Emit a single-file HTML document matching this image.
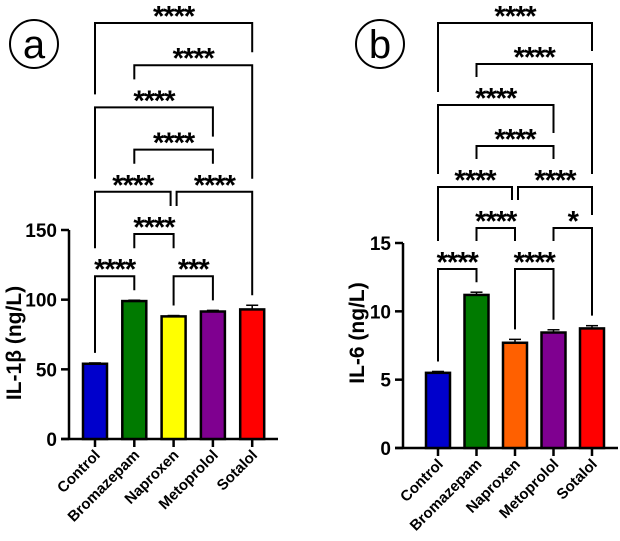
<!DOCTYPE html>
<html><head><meta charset="utf-8"><style>
body{margin:0;background:#fff}
svg{display:block;font-family:"Liberation Sans",Arial,sans-serif;font-weight:bold}
</style></head><body>
<svg id="c" width="620" height="541" viewBox="0 0 620 541">
<g><circle cx="34" cy="44" r="24" fill="none" stroke="#000" stroke-width="2"/><text x="34" y="58" font-size="40" font-weight="normal" text-anchor="middle">a</text></g>
<g><circle cx="380" cy="44" r="24" fill="none" stroke="#000" stroke-width="2"/><text x="380" y="58" font-size="40" font-weight="normal" text-anchor="middle">b</text></g>
</svg>
<script>
const categories=["Control","Bromazepam","Naproxen","Metoprolol","Sotalol"];
const colorsBar=["#0000cc","#007a00","#ffff00","#7f0090","#ff0000"];
const colorsBar2=["#0000cc","#007a00","#ff6000","#7f0090","#ff0000"];
const il1bValues=[54,99,88,91.5,93];
const il1bErrors=[0.6,0.6,0.6,0.8,3];
const il1bTicks=[0,50,100,150];
const il6Values=[5.5,11.2,7.7,8.45,8.75];
const il6Errors=[0.1,0.2,0.25,0.2,0.2];
const il6Ticks=[0,5,10,15];
const il1bComps=[[0,4,"****",0],[1,4,"****",1],[0,3,"****",2],[1,3,"****",3],[0,2,"****",4],[2,4,"****",4],[1,2,"****",5],[0,1,"****",6],[2,3,"***",6]];
const il6Comps=[[0,4,"****",0],[1,4,"****",1],[0,3,"****",2],[1,3,"****",3],[0,2,"****",4],[2,4,"****",4],[1,2,"****",5],[3,4,"*",5],[0,1,"****",6],[2,3,"****",6]];
const svg=document.getElementById('c');
const NS="http://www.w3.org/2000/svg";
function mk(t,a,p){const e=document.createElementNS(NS,t);for(const k in a)e.setAttribute(k,a[k]);(p||svg).appendChild(e);return e;}
function panel(o){
 const g=mk('g',{});
 
 
 const y=v=>o.y0-v*(o.y0-o.yTop)/o.max;
 const x=i=>o.x0+i*o.step;
 const ya=mk('line',{x1:o.ax,y1:y(o.max),x2:o.ax,y2:o.y0+1,stroke:'#000','stroke-width':2.5},g);
 
 const xa=mk('line',{x1:o.ax-8,y1:o.y0,x2:o.axEnd,y2:o.y0,stroke:'#000','stroke-width':2.5},g);
 
 o.ticks.forEach(t=>{
  mk('line',{x1:o.ax-8,y1:y(t),x2:o.ax,y2:y(t),stroke:'#000','stroke-width':2.5},g);
  const tx=mk('text',{x:o.ax-12,y:y(t)+7,'font-size':19,'text-anchor':'end'},g);tx.textContent=t;
  
 });
 const yt=mk('text',{x:0,y:0,'font-size':21,'text-anchor':'middle',transform:`translate(${o.titleX},${o.titleY}) rotate(-90)`},g);
 yt.textContent=o.title;
 const tops=[];
 categories.forEach((c,i)=>{
  const v=o.vals[i],e=o.errs[i],cx=x(i);
  const b=mk('rect',{x:cx-12,y:y(v),width:24,height:o.y0-y(v),fill:o.colors[i],stroke:'#000','stroke-width':2.5},g);
  
  mk('line',{x1:cx,y1:y(v),x2:cx,y2:y(v+e),stroke:'#000','stroke-width':1.5},g);
  mk('line',{x1:cx-6,y1:y(v+e),x2:cx+6,y2:y(v+e),stroke:'#000','stroke-width':1.5},g);
  tops.push(y(v+e));
  mk('line',{x1:cx,y1:o.y0,x2:cx,y2:o.y0+8,stroke:'#000','stroke-width':2.5},g);
  const lb=mk('text',{x:0,y:0,'font-size':15,'text-anchor':'end',transform:`translate(${cx+6},${o.y0+17}) rotate(-45)`},g);
  lb.textContent=c;
 });
 const lvY=l=>23+l*o.lvStep;
 o.comps.forEach(([i,j,lab,l])=>{
  const by=lvY(l);
  const legEnd=k=>{let e=tops[k]-10;const xk=x(k);
   o.comps.forEach(([a,b2,lab2,l2])=>{if(l2<=l)return;const y2=lvY(l2);
    const cx2=(x(a)+x(b2))/2,hw=lab2.length*6.5+2;
    if(Math.abs(xk-cx2)<=hw)e=Math.min(e,y2-28);
    if(a<=k&&k<=b2)e=Math.min(e,y2-13);});
   return Math.max(e,by+12);};
  let xi=x(i),xj=x(j);
  o.comps.forEach(([a,b2,_,l2])=>{if(l2===l&&!(a===i&&b2===j)){if(a===j)xj-=3;if(b2===i)xi+=3;}});
  const p=mk('path',{d:`M${xi},${legEnd(i)}V${by}H${xj}V${legEnd(j)}`,fill:'none',stroke:'#000','stroke-width':2},g);
  
  const t=mk('text',{x:(xi+xj)/2,y:by+3,'font-size':29,'text-anchor':'middle','letter-spacing':'-1'},g);
  t.textContent=lab;
 });
}
panel({name:'il1b-chart',ax:69,axEnd:278,x0:95,step:39.3,y0:439,yTop:230,max:150,ticks:il1bTicks,vals:il1bValues,errs:il1bErrors,colors:colorsBar,comps:il1bComps,title:'IL-1β (ng/L)',titleX:21,titleY:343,lvStep:42.2});
panel({name:'il6-chart',ax:403,axEnd:618,x0:438,step:38.5,y0:448,yTop:243,max:15,ticks:il6Ticks,vals:il6Values,errs:il6Errors,colors:colorsBar2,comps:il6Comps,title:'IL-6 (ng/L)',titleX:364,titleY:333,lvStep:41});
</script>
</body></html>
